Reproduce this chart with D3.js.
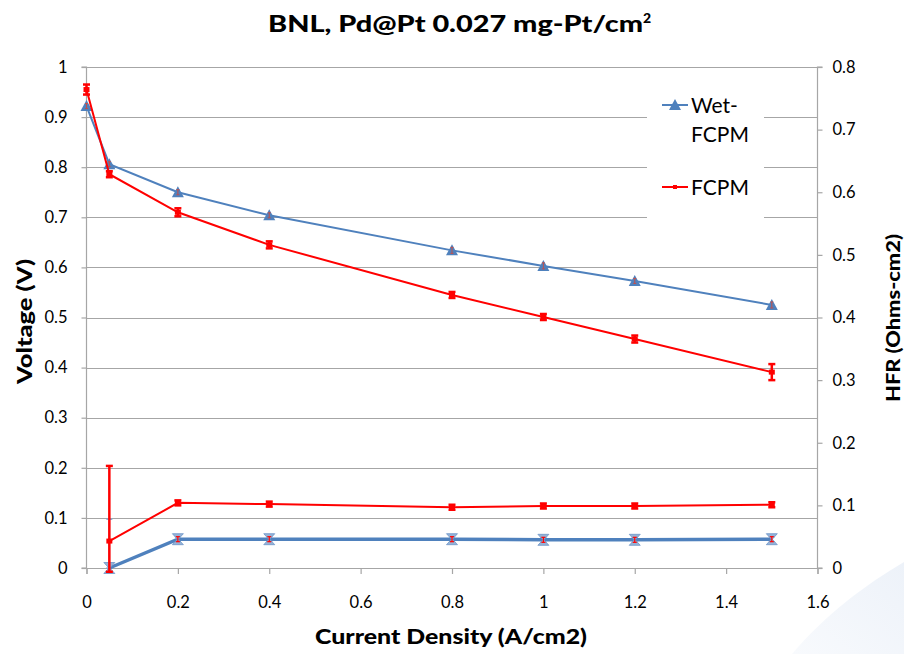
<!DOCTYPE html>
<html>
<head>
<meta charset="utf-8">
<script src="https://cdnjs.cloudflare.com/ajax/libs/d3/7.8.5/d3.min.js"></script>
<style>
  html, body { margin: 0; padding: 0; background: #ffffff; }
  svg { display: block; font-family: Lato, "Open Sans", sans-serif; }
</style>
</head>
<body>
<svg id="chart" width="904" height="654"></svg>
<script>
// Polarization curves (left axis) and HFR (right axis) vs current density
const currentV = [0, 0.05, 0.2, 0.4, 0.8, 1.0, 1.2, 1.5];
const wetVoltage = [0.922, 0.806, 0.750, 0.704, 0.634, 0.603, 0.573, 0.525];
const wetVoltageErr = [0.005, 0.005, 0.005, 0.005, 0.006, 0.006, 0.005, 0.006];
const fcpmVoltage = [0.955, 0.786, 0.710, 0.645, 0.545, 0.501, 0.457, 0.391];
const fcpmVoltageErr = [0.010, 0.006, 0.008, 0.007, 0.006, 0.006, 0.007, 0.016];

const currentH = [0.05, 0.2, 0.4, 0.8, 1.0, 1.2, 1.5];
const wetHFR = [0.0, 0.046, 0.046, 0.046, 0.045, 0.045, 0.046];
const wetHFRErrLo = [0.0, 0.004, 0.004, 0.004, 0.004, 0.004, 0.004];
const wetHFRErrHi = [0.078, 0.004, 0.004, 0.004, 0.004, 0.004, 0.004];
const fcpmHFR = [0.043, 0.104, 0.102, 0.097, 0.099, 0.099, 0.101];
const fcpmHFRErrLo = [0.049, 0.004, 0.004, 0.004, 0.004, 0.004, 0.004];
const fcpmHFRErrHi = [0.120, 0.004, 0.004, 0.004, 0.004, 0.004, 0.004];

const xTicks = [0, 0.2, 0.4, 0.6, 0.8, 1, 1.2, 1.4, 1.6];
const yTicks = [0, 0.1, 0.2, 0.3, 0.4, 0.5, 0.6, 0.7, 0.8, 0.9, 1];
const y2Ticks = [0, 0.1, 0.2, 0.3, 0.4, 0.5, 0.6, 0.7, 0.8];

const BLUE = "#4f81bd";
const RED = "#ff0000";
const GRID = "#a6a6a6";

const svg = d3.select("#chart");

// soft background sweep in the lower-right corner
const defs = svg.append("defs");
const grad = defs.append("linearGradient").attr("id", "sweep")
  .attr("x1", "0").attr("y1", "1").attr("x2", "1").attr("y2", "0");
grad.append("stop").attr("offset", "0").attr("stop-color", "#f8fafd");
grad.append("stop").attr("offset", "1").attr("stop-color", "#edf2f9");
svg.append("path")
  .attr("d", "M792,654 C825,615 865,585 904,562 L904,654 Z")
  .attr("fill", "url(#sweep)");

const x = d3.scaleLinear().domain([0, 1.6]).range([86.5, 817.5]);
const y = d3.scaleLinear().domain([0, 1]).range([568, 67]);
const y2 = d3.scaleLinear().domain([0, 0.8]).range([568, 67]);

// gridlines
svg.append("g").selectAll("line").data(yTicks.slice(1)).join("line")
  .attr("x1", x(0)).attr("x2", x(1.6))
  .attr("y1", d => Math.round(y(d)) + 0.5).attr("y2", d => Math.round(y(d)) + 0.5)
  .attr("stroke", GRID).attr("stroke-width", 1.2);

// axes
const axisLeft = d3.axisLeft(y).tickValues(yTicks).tickFormat(d3.format("")).tickSize(5).tickPadding(14);
const axisRight = d3.axisRight(y2).tickValues(y2Ticks).tickFormat(d3.format("")).tickSize(5).tickPadding(10);
const axisBottom = d3.axisBottom(x).tickValues(xTicks).tickFormat(d3.format("")).tickSize(6).tickPadding(22);

function styleAxis(g) {
  g.select(".domain").attr("stroke", GRID).attr("stroke-width", 1.2);
  g.selectAll(".tick line").attr("stroke", GRID).attr("stroke-width", 1.2);
  g.selectAll(".tick text").attr("fill", "#000").style("font-size", "16.5px")
    .style("font-family", "Lato, 'Open Sans', sans-serif");
}
svg.append("g").attr("transform", `translate(${x(0)},0)`).call(axisLeft).call(styleAxis)
  .call(g => g.select(".domain").attr("d", `M-5,${y(0)}H0V${y(1)}H-5`));
svg.append("g").attr("transform", `translate(${x(1.6)},0)`).call(axisRight).call(styleAxis)
  .call(g => g.select(".domain").attr("d", `M5,${y2(0)}H0V${y2(0.8)}H5`));
svg.append("g").attr("transform", `translate(0,${y(0)})`).call(axisBottom).call(styleAxis);

// line generators
const lineV = (vals) => d3.line().x((d, i) => x(currentV[i])).y(d => y(d))(vals);
const lineH = (vals) => d3.line().x((d, i) => x(currentH[i])).y(d => y2(d))(vals);

// error bar helper
function errorBars(xs, vals, lo, hi, scale, color, width, cap) {
  const g = svg.append("g");
  vals.forEach((v, i) => {
    const cx = x(xs[i]);
    const top = scale(v + hi[i]), bot = scale(v - lo[i]);
    g.append("line").attr("x1", cx).attr("x2", cx).attr("y1", top).attr("y2", bot)
      .attr("stroke", color).attr("stroke-width", width);
    [top, bot].forEach(yy => g.append("line")
      .attr("x1", cx - cap).attr("x2", cx + cap).attr("y1", yy).attr("y2", yy)
      .attr("stroke", color).attr("stroke-width", width));
  });
}

// ---- HFR series (right axis) ----
// Wet-FCPM HFR
errorBars(currentH, wetHFR, wetHFRErrLo, wetHFRErrHi, y2, "#7fa6d6", 1.5, 3);
svg.append("path").attr("d", lineH(wetHFR)).attr("fill", "none")
  .attr("stroke", BLUE).attr("stroke-width", 3.5);
svg.append("g").selectAll("path").data(wetHFR).join("path")
  .attr("transform", (d, i) => `translate(${x(currentH[i])},${y2(d)})`)
  .attr("d", "M-5.5,-5.5L5.5,-5.5L0.5,0L5.5,5.5L-5.5,5.5L-0.5,0Z")
  .attr("fill", "#95b3d7").attr("stroke", "#6f95c8").attr("stroke-width", 0.8);
// small red bars inside the markers
errorBars(currentH.slice(1), wetHFR.slice(1), wetHFRErrLo.slice(1), wetHFRErrHi.slice(1), y2, RED, 1.2, 2);

// FCPM HFR
errorBars(currentH, fcpmHFR, fcpmHFRErrLo, fcpmHFRErrHi, y2, RED, 2.5, 3.5);
svg.append("path").attr("d", lineH(fcpmHFR)).attr("fill", "none")
  .attr("stroke", RED).attr("stroke-width", 2);
svg.append("g").selectAll("rect").data(fcpmHFR).join("rect")
  .attr("x", (d, i) => x(currentH[i]) - 3).attr("y", d => y2(d) - 2.5)
  .attr("width", 6).attr("height", 5).attr("fill", RED);

// ---- Voltage series (left axis) ----
// Wet-FCPM voltage
svg.append("path").attr("d", lineV(wetVoltage)).attr("fill", "none")
  .attr("stroke", BLUE).attr("stroke-width", 2);
svg.append("g").selectAll("path").data(wetVoltage).join("path")
  .attr("transform", (d, i) => `translate(${x(currentV[i])},${y(d)})`)
  .attr("d", "M0,-6L6,5L-6,5Z").attr("fill", BLUE);
errorBars(currentV, wetVoltage, wetVoltageErr, wetVoltageErr, y, "#c0504d", 1, 1.5);

// FCPM voltage
svg.append("path").attr("d", lineV(fcpmVoltage)).attr("fill", "none")
  .attr("stroke", RED).attr("stroke-width", 2);
errorBars(currentV, fcpmVoltage, fcpmVoltageErr, fcpmVoltageErr, y, RED, 2.5, 3.5);
svg.append("g").selectAll("rect").data(fcpmVoltage).join("rect")
  .attr("x", (d, i) => x(currentV[i]) - 3).attr("y", d => y(d) - 2.5)
  .attr("width", 6).attr("height", 5).attr("fill", RED);

// ---- legend ----
const lg = svg.append("g");
lg.append("rect").attr("x", 647).attr("y", 86).attr("width", 117).attr("height", 134).attr("fill", "#fff");
lg.append("line").attr("x1", 662).attr("x2", 688).attr("y1", 105).attr("y2", 105)
  .attr("stroke", BLUE).attr("stroke-width", 2);
lg.append("path").attr("transform", "translate(675,105)").attr("d", "M0,-6L6,5L-6,5Z").attr("fill", BLUE);
lg.append("text").attr("x", 691).attr("y", 113).text("Wet-").style("font-size", "21px");
lg.append("text").attr("x", 691).attr("y", 142).text("FCPM").style("font-size", "21px");
lg.append("line").attr("x1", 662).attr("x2", 688).attr("y1", 187).attr("y2", 187)
  .attr("stroke", RED).attr("stroke-width", 2);
lg.append("rect").attr("x", 673).attr("y", 185).attr("width", 4).attr("height", 4).attr("fill", RED);
lg.append("text").attr("x", 691).attr("y", 195).text("FCPM").style("font-size", "21px");

// ---- titles ----
const title = svg.append("text").attr("x", 268).attr("y", 32)
  .style("font-size", "22px").style("font-weight", "900");
title.append("tspan").text("BNL, Pd@Pt 0.027 mg-Pt/cm").attr("textLength", 375).attr("lengthAdjust", "spacingAndGlyphs");
title.append("tspan").text("2").attr("dy", -9).style("font-size", "14px");

svg.append("text").attr("x", 315).attr("y", 644)
  .attr("textLength", 272).attr("lengthAdjust", "spacingAndGlyphs")
  .style("font-size", "20px").style("font-weight", "900").text("Current Density (A/cm2)");

svg.append("text").attr("transform", "translate(32,384) rotate(-90)")
  .attr("textLength", 125).attr("lengthAdjust", "spacingAndGlyphs")
  .style("font-size", "20px").style("font-weight", "900").text("Voltage (V)");

svg.append("text").attr("transform", "translate(900,402) rotate(-90)")
  .attr("textLength", 168).attr("lengthAdjust", "spacingAndGlyphs")
  .style("font-size", "18px").style("font-weight", "900").text("HFR (Ohms-cm2)");
</script>
</body>
</html>
